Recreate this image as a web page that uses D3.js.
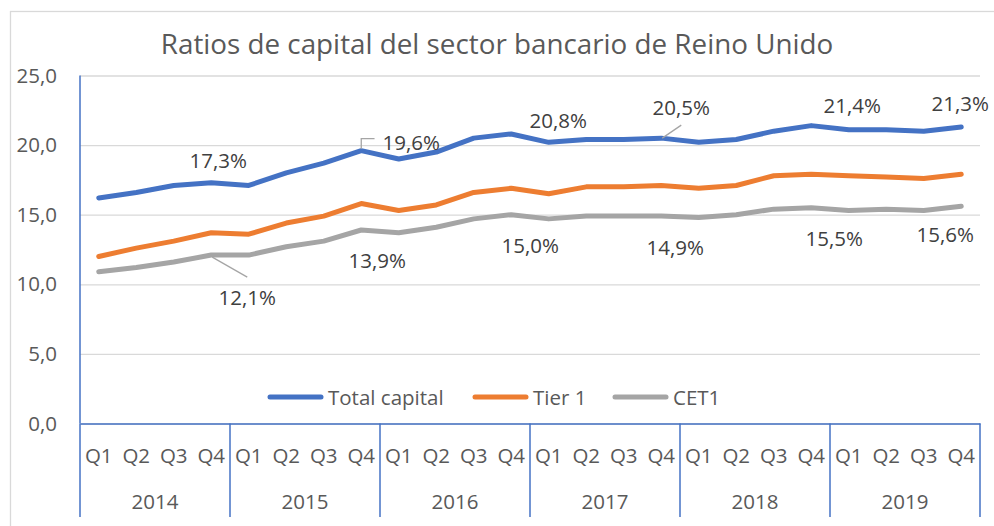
<!DOCTYPE html>
<html>
<head>
<meta charset="utf-8">
<script src="https://cdn.jsdelivr.net/npm/d3@7"></script>
<style>
  body { margin: 0; background: #fff; }
  text { font-family: "Open Sans", sans-serif; }
</style>
</head>
<body>
<svg id="chart" width="994" height="526"></svg>
<script>
var years = ['2014', '2015', '2016', '2017', '2018', '2019'];
var quarters = ['Q1', 'Q2', 'Q3', 'Q4'];
var yTicks = [0, 5, 10, 15, 20, 25];

var totalCapital = [16.2, 16.6, 17.1, 17.3, 17.1, 18.0, 18.7, 19.6, 19.0, 19.5, 20.5, 20.8,
                    20.2, 20.4, 20.4, 20.5, 20.2, 20.4, 21.0, 21.4, 21.1, 21.1, 21.0, 21.3];
var tier1 = [12.0, 12.6, 13.1, 13.7, 13.6, 14.4, 14.9, 15.8, 15.3, 15.7, 16.6, 16.9,
             16.5, 17.0, 17.0, 17.1, 16.9, 17.1, 17.8, 17.9, 17.8, 17.7, 17.6, 17.9];
var cet1 = [10.9, 11.2, 11.6, 12.1, 12.1, 12.7, 13.1, 13.9, 13.7, 14.1, 14.7, 15.0,
            14.7, 14.9, 14.9, 14.9, 14.8, 15.0, 15.4, 15.5, 15.3, 15.4, 15.3, 15.6];

var seriesNames = ['Total capital', 'Tier 1', 'CET1'];
var colors = ['#4472C4', '#ED7D31', '#A5A5A5'];

// which points get a data label, and where the label sits relative to the point
var labelsTotal = [
    { i: 3, dx: 7, dy: -23 },
    { i: 7, dx: 50, dy: -9, leader: 'elbow' },
    { i: 11, dx: 47, dy: -14 },
    { i: 15, dx: 20, dy: -31, leader: 'line' },
    { i: 19, dx: 41, dy: -21 },
    { i: 23, dx: -1, dy: -24 }
];
var labelsCet1 = [
    { i: 3, dx: 36, dy: 42, leader: 'line' },
    { i: 7, dx: 16, dy: 30 },
    { i: 11, dx: 19, dy: 30 },
    { i: 15, dx: 14, dy: 31 },
    { i: 19, dx: 23, dy: 30 },
    { i: 23, dx: -16, dy: 28 }
];

var svg = d3.select('#chart'),
    margin = { top: 75.5, left: 80, right: 14, bottom: 102.5 },
    W = 994, H = 526,
    plotW = W - margin.left - margin.right,
    plotH = H - margin.top - margin.bottom,
    textColor = '#595959',
    labelColor = '#404040',
    fontSize = 20.5;

var keys = [];
years.forEach(y => quarters.forEach(q => keys.push(y + ' ' + q)));

var x = d3.scaleBand().domain(keys).range([margin.left, margin.left + plotW]).padding(0);
var y = d3.scaleLinear().domain([0, 25]).range([margin.top + plotH, margin.top]);
var fmt = v => d3.format('.1f')(v).replace('.', ',');

// outer chart frame
svg.append('rect')
    .attr('x', 10.5).attr('y', 11.5)
    .attr('width', 1000).attr('height', 600)
    .attr('fill', 'none').attr('stroke', '#d9d9d9').attr('stroke-width', 1.3);

svg.append('text')
    .attr('x', 497).attr('y', 54)
    .attr('text-anchor', 'middle')
    .attr('font-size', 27.8)
    .attr('fill', textColor)
    .text('Ratios de capital del sector bancario de Reino Unido');

// gridlines + y labels
var yAxis = d3.axisLeft(y).tickValues(yTicks).tickSize(-plotW).tickFormat(fmt).tickPadding(23);
var gy = svg.append('g').attr('transform', `translate(${margin.left},0)`).call(yAxis);
gy.select('.domain').remove();
gy.selectAll('.tick line').attr('stroke', '#d9d9d9').attr('stroke-width', 1.3);
gy.selectAll('.tick text').attr('font-size', fontSize).attr('fill', textColor)
    .attr('font-family', '"Open Sans", sans-serif');

// y axis line (blue)
svg.append('line')
    .attr('x1', margin.left).attr('x2', margin.left)
    .attr('y1', y(25)).attr('y2', y(0))
    .attr('stroke', '#4472C4').attr('stroke-width', 1.5);

// x axis: quarters row and years row
var xAxis = d3.axisBottom(x).tickSize(0).tickFormat(k => k.split(' ')[1]).tickPadding(0);
var gx = svg.append('g').attr('transform', `translate(0,${y(0)})`).call(xAxis);
gx.select('.domain').attr('stroke', '#4472C4').attr('stroke-width', 1.5);
gx.selectAll('.tick text').attr('font-size', fontSize).attr('fill', textColor)
    .attr('font-family', '"Open Sans", sans-serif')
    .attr('dy', 39);

var yearW = plotW / years.length;
var gyears = svg.append('g');
years.forEach((yr, j) => {
    gyears.append('text')
        .attr('x', margin.left + yearW * (j + 0.5))
        .attr('y', 509)
        .attr('text-anchor', 'middle')
        .attr('font-size', fontSize)
        .attr('fill', textColor)
        .text(yr);
});
d3.range(years.length + 1).forEach(j => {
    gyears.append('line')
        .attr('x1', margin.left + yearW * j).attr('x2', margin.left + yearW * j)
        .attr('y1', y(0)).attr('y2', 517)
        .attr('stroke', '#4472C4').attr('stroke-width', 1.5);
});

// lines
var allSeries = [totalCapital, tier1, cet1];
var line = d3.line()
    .x((d, i) => x(keys[i]) + x.bandwidth() / 2)
    .y(d => y(d));

allSeries.forEach((s, k) => {
    svg.append('path')
        .datum(s)
        .attr('d', line)
        .attr('fill', 'none')
        .attr('stroke', colors[k])
        .attr('stroke-width', 5)
        .attr('stroke-linejoin', 'round')
        .attr('stroke-linecap', 'round');
});

// data labels
function drawLabels(series, labels) {
    labels.forEach(l => {
        var px = x(keys[l.i]) + x.bandwidth() / 2,
            py = y(series[l.i]);
        var lx = px + l.dx, ly = py + l.dy;
        var t = svg.append('text')
            .attr('x', lx).attr('y', ly)
            .attr('text-anchor', 'middle')
            .attr('dominant-baseline', 'central')
            .attr('font-size', fontSize)
            .attr('fill', labelColor)
            .text(fmt(series[l.i]) + '%');
        if (l.leader === 'elbow') {
            var left = lx - t.node().getComputedTextLength() / 2 - 8;
            svg.append('path')
                .attr('d', `M${px},${py - 2}V${ly - 3}H${left}`)
                .attr('fill', 'none').attr('stroke', '#a5a5a5').attr('stroke-width', 1.3);
        } else if (l.leader === 'line') {
            var ey = l.dy < 0 ? ly + 18 : ly - 20;
            svg.append('line')
                .attr('x1', px + 1).attr('y1', py + (l.dy < 0 ? 0 : 2))
                .attr('x2', lx).attr('y2', ey)
                .attr('stroke', '#a5a5a5').attr('stroke-width', 1.3);
        }
    });
}
drawLabels(totalCapital, labelsTotal);
drawLabels(cet1, labelsCet1);

// legend
var legendItems = [
    { x: 268, tx: 328 },
    { x: 473, tx: 533 },
    { x: 613, tx: 673 }
];
legendItems.forEach((li, k) => {
    svg.append('line')
        .attr('x1', li.x + 2).attr('x2', li.x + 53)
        .attr('y1', 397).attr('y2', 397)
        .attr('stroke', colors[k]).attr('stroke-width', 5)
        .attr('stroke-linecap', 'round');
    svg.append('text')
        .attr('x', li.tx).attr('y', 397)
        .attr('dominant-baseline', 'central')
        .attr('font-size', fontSize)
        .attr('fill', textColor)
        .text(seriesNames[k]);
});
</script>
</body>
</html>
